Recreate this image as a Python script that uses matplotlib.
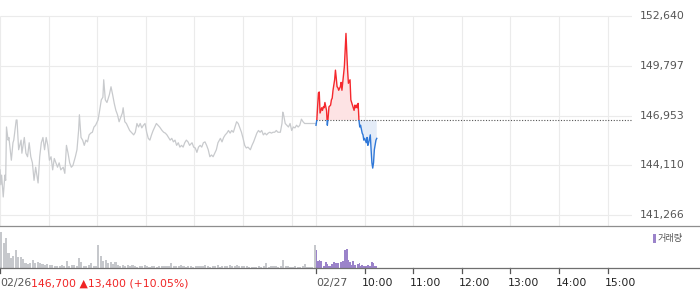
import matplotlib
matplotlib.use("Agg")
import matplotlib.pyplot as plt
from matplotlib.patches import Rectangle
from matplotlib.transforms import blended_transform_factory
import numpy as np

plt.rcParams['font.family'] = ['DejaVu Sans', 'Noto Sans CJK KR']

# ---------------- data ----------------
prev_close = 146700
y_ticks = [141266, 144110, 146953, 149797, 152640]
day_labels = ["02/26", "02/27"]
hour_labels = ["10:00", "11:00", "12:00", "13:00", "14:00", "15:00"]
summary_text = "146,700 \u25B213,400 (+10.05%)"
legend_label = "거래량"

# 02/26 price (minutes after 09:00, price)
d1_min = [0, 1, 2, 4, 6, 7, 8, 10, 11, 14,
          16, 17, 20, 21, 23, 26, 27, 30, 32, 34,
          36, 38, 40, 42, 44, 47, 49, 51, 53, 55,
          57, 59, 61, 63, 65, 67, 69, 71, 73, 75,
          78, 80, 82, 84, 86, 88, 90, 93, 95, 97,
          98, 100, 102, 104, 106, 108, 110, 112, 114, 116,
          118, 121, 123, 125, 127, 128, 130, 132, 135, 137,
          139, 141, 143, 145, 147, 149, 151, 152, 154, 156,
          158, 160, 163, 165, 167, 169, 171, 173, 175, 177,
          179, 181, 183, 185, 187, 189, 191, 193, 195, 197,
          200, 202, 204, 206, 208, 210, 212, 214, 216, 218,
          220, 222, 224, 226, 228, 230, 232, 234, 237, 239,
          241, 243, 245, 247, 249, 251, 253, 255, 257, 259,
          261, 263, 265, 267, 269, 272, 274, 276, 278, 280,
          282, 284, 286, 288, 290, 292, 294, 296, 298, 300,
          302, 304, 306, 309, 311, 313, 315, 317, 319, 321,
          323, 325, 327, 329, 331, 333, 335, 337, 339, 341,
          343, 346, 348, 349, 350, 352, 354, 356, 358, 360,
          362, 364, 366, 368, 370, 372, 374, 376, 380, 385,
          389]
d1_price = [143850, 143000, 143550, 142300, 143550, 143250, 146300, 145550, 145700, 144400,
            145400, 145550, 146700, 146700, 145000, 145550, 144800, 145700, 144800, 144600,
            145400, 144600, 144250, 143250, 144000, 143100, 144600, 145400, 145700, 145000,
            145700, 145250, 144400, 144600, 143850, 144500, 144250, 144000, 144250, 143850,
            144000, 143650, 145250, 144800, 144250, 144000, 144100, 144600, 145000, 146100,
            147000, 145700, 145550, 145250, 145550, 145450, 145850, 145950, 146000, 146300,
            146400, 146700, 147250, 147850, 148000, 149000, 147850, 147700, 148150, 148600,
            148150, 147650, 147250, 147000, 146600, 146850, 147100, 147400, 146600, 146500,
            146300, 146100, 145950, 145850, 146000, 146500, 146300, 146500, 146250, 146400,
            146500, 146000, 145650, 145550, 145850, 146100, 146300, 146500, 146400, 146300,
            146100, 146000, 145950, 145850, 145700, 145550, 145650, 145450, 145550, 145250,
            145400, 145150, 145250, 145150, 145400, 145550, 145450, 145250, 145400, 145150,
            145100, 144850, 145150, 145250, 145150, 145400, 145450, 145250, 145000, 144600,
            144700, 144600, 144800, 145000, 145400, 145650, 145450, 145700, 145850, 145950,
            146100, 145950, 146100, 146000, 146300, 146600, 146500, 146250, 146000, 145650,
            145250, 145100, 145150, 145000, 145250, 145450, 145700, 145950, 146100, 146000,
            146100, 145850, 145950, 145850, 145950, 146000, 145950, 146000, 146000, 146100,
            146000, 146000, 146500, 147150, 147000, 146500, 146400, 146300, 146500, 146100,
            146300, 146250, 146400, 146300, 146400, 146750, 146600, 146500, 146500, 146500,
            146500]

# 02/27 price (minutes after 09:00, price)
d2_min = [0, 1, 3, 4, 5, 7, 8, 9, 10, 11,
          13, 14, 15, 16, 18, 19, 20, 21, 23, 24,
          25, 26, 27, 28, 30, 31, 32, 33, 35, 36,
          37, 38, 39, 40, 42, 43, 44, 45, 47, 48,
          49, 50, 51, 52, 53, 54, 55, 57, 58, 59,
          60, 62, 63, 64, 65, 67, 68, 69, 70, 71,
          72, 74, 75]
d2_price = [146400, 146700, 148250, 148300, 147100, 147400, 147250, 147450, 147400, 147700,
            147250, 146400, 146850, 147450, 147550, 147850, 147950, 148400, 149000, 149550,
            149100, 148600, 148550, 148400, 148600, 148850, 148400, 148850, 149750, 150700,
            151650, 150550, 149550, 148800, 149000, 147850, 147700, 147550, 147250, 147550,
            147400, 147550, 147400, 147650, 146700, 146300, 146400, 145950, 145850, 145550,
            145650, 145400, 145700, 145250, 145400, 145850, 145000, 144250, 143950, 144250,
            145000, 145550, 145650]

# volume (thousand shares): 02/26 in 3-minute buckets, 02/27 per minute
vol_d1 = [36, 25, 30, 15, 10, 12, 18, 11, 11, 9,
          5, 4, 5, 8, 5, 6, 5, 4, 3, 4,
          3, 3, 2, 2, 2, 3, 2, 7, 2, 3,
          3, 2, 10, 6, 2, 2, 3, 5, 2, 2,
          23, 12, 7, 8, 5, 6, 4, 6, 3, 2,
          3, 2, 3, 2, 3, 2, 1, 2, 2, 3,
          2, 1, 2, 2, 1, 2, 2, 2, 2, 2,
          5, 2, 2, 2, 3, 2, 1, 2, 2, 1,
          2, 2, 2, 2, 3, 2, 1, 2, 2, 3,
          1, 2, 2, 2, 3, 2, 2, 3, 2, 2,
          2, 2, 1, 1, 1, 1, 2, 1, 2, 5,
          1, 2, 2, 2, 1, 2, 8, 2, 2, 1,
          1, 2, 1, 1, 2, 4, 1, 1, 1, 23]
vol_d2 = [18, 7, 7, 7, 8, 7, 7, 6, 6, 2,
          2, 6, 6, 4, 4, 2, 2, 2, 2, 4,
          4, 6, 6, 12, 5, 5, 5, 5, 3, 3,
          6, 6, 7, 7, 13, 18, 18, 19, 19, 8,
          8, 6, 6, 3, 3, 7, 7, 3, 3, 2,
          2, 4, 4, 5, 2, 2, 3, 3, 2, 2,
          2, 2, 2, 3, 3, 2, 2, 2, 6, 6,
          5, 5, 2, 2, 2]

# ---------------- layout ----------------
W, H = 700, 289
fig = plt.figure(figsize=(W / 100, H / 100), dpi=100)


def fx(px):
    return px / W


def fy(py):
    return 1 - py / H


SESSION = 6.5  # hours per trading day (09:00-15:30)
X_MAX = 2 * SESSION
Y_TOP, Y_BOT = 153560, 140640

ax = fig.add_axes([0, fy(226), fx(632), 226 / H])
axv = fig.add_axes([0, fy(268), fx(632), 42 / H])
for a in (ax, axv):
    a.set_xlim(0, X_MAX)
    a.axis('off')
ax.set_ylim(Y_BOT, Y_TOP)
axv.set_ylim(0, 42)

grid_c = '#ebebeb'
# horizontal grid
ax.hlines(y_ticks, 0, X_MAX, colors=grid_c, lw=0.8, zorder=0)
# vertical grid at each hour of both sessions
hours_grid = [h for h in range(0, 7)] + [SESSION + h for h in range(0, 7)]
ax.vlines(hours_grid, Y_BOT, y_ticks[-1], colors=grid_c, lw=0.8, zorder=0)

# day 1 line
x1 = np.array(d1_min) / 60.0
y1 = np.array(d1_price, dtype=float)
ax.plot(x1, y1, color='#c8cacd', lw=0.9, zorder=3)

# previous close dotted line
ax.hlines(prev_close, SESSION, X_MAX, colors='#555555', lw=0.8,
          linestyles=(0, (1, 1.5)), zorder=2)

# day 2 line with up/down colouring
x2 = SESSION + np.array(d2_min) / 60.0
y2 = np.array(d2_price, dtype=float)
ax.fill_between(x2, y2, prev_close, where=y2 >= prev_close, interpolate=True,
                color='#fde3e4', lw=0, zorder=1)
ax.fill_between(x2, y2, prev_close, where=y2 <= prev_close, interpolate=True,
                color='#e4ecf8', lw=0, zorder=1)
l_up, = ax.plot(x2, y2, color='#f5282d', lw=1.0, zorder=4)
l_dn, = ax.plot(x2, y2, color='#2f78d8', lw=1.0, zorder=4)
clip_up = Rectangle((0, prev_close), X_MAX, Y_TOP - prev_close, transform=ax.transData)
clip_dn = Rectangle((0, Y_BOT), X_MAX, prev_close - Y_BOT, transform=ax.transData)
l_up.set_clip_path(clip_up)
l_dn.set_clip_path(clip_dn)

# y tick labels on right
tr_y = blended_transform_factory(fig.transFigure, ax.transData)
for v in y_ticks:
    ax.text(fx(640), v, f"{v:,}", transform=tr_y, ha='left', va='center',
            fontsize=7.8, color='#555555', clip_on=False)

# volume bars
xv1 = (np.arange(len(vol_d1)) * 3 + 1.5) / 60.0
axv.bar(xv1, vol_d1, width=2.6 / 60.0, color='#c6c8cc', lw=0)
xv2 = SESSION + (np.arange(len(vol_d2)) + 0.5) / 60.0
axv.bar(xv2, vol_d2, width=0.95 / 60.0, color='#9b83ca', lw=0)

# separator lines across full width
fig.add_artist(plt.Line2D([0, 1], [fy(226), fy(226)], color='#8e8e8e', lw=0.9,
                          transform=fig.transFigure))
fig.add_artist(plt.Line2D([0, 1], [fy(268), fy(268)], color='#6f6f6f', lw=0.9,
                          transform=fig.transFigure))

# x ticks under volume axis
tr_x = blended_transform_factory(axv.transData, fig.transFigure)
tick_pos = [0, SESSION] + [SESSION + h for h in range(1, 7)]
for t in tick_pos:
    axv.plot([t, t], [fy(268), fy(272.5)], color='#555555', lw=0.9,
             transform=tr_x, clip_on=False)

# x labels
ly = fy(283)
t1 = axv.text(0, ly, day_labels[0], transform=tr_x, ha='left', va='center',
              fontsize=7.8, color='#555555', clip_on=False)
axv.annotate(summary_text, xy=(1, 0.5), xycoords=t1, ha='left', va='center',
             fontsize=7.8, color='#f02424')
axv.text(SESSION, ly, day_labels[1], transform=tr_x, ha='left', va='center',
         fontsize=7.8, color='#555555', clip_on=False)
for i, lab in enumerate(hour_labels):
    axv.annotate(lab, xy=(SESSION + i + 1, ly), xycoords=tr_x,
                 xytext=(-3, 0), textcoords='offset pixels',
                 ha='left', va='center', fontsize=7.8, color='#222222')

# legend
fig.add_artist(Rectangle((fx(653), fy(243)), fx(3), 9 / H, transform=fig.transFigure,
                         color='#9b83ca', lw=0))
fig.text(fx(658), fy(238.5), legend_label, ha='left', va='center',
         fontsize=6.6, color='#555555', family=['Noto Sans CJK KR', 'DejaVu Sans'])

fig.savefig('out.png', dpi=100)
